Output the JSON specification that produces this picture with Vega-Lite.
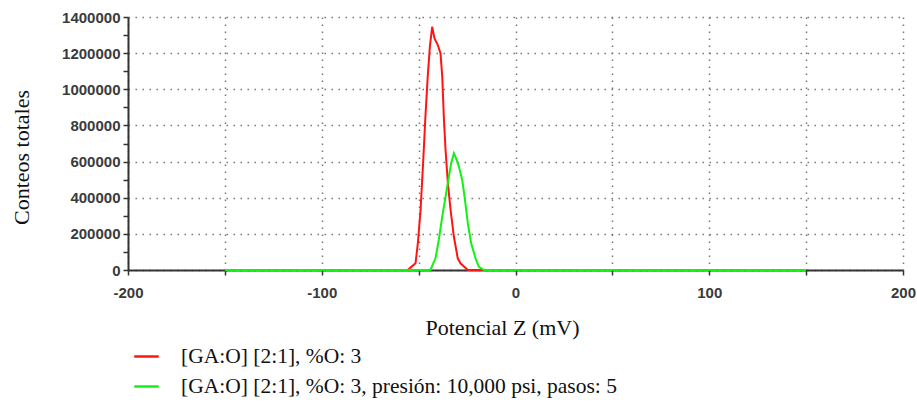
{
  "$schema": "https://vega.github.io/schema/vega-lite/v6.json",
  "width": 775,
  "height": 253,
  "autosize": "none",
  "padding": {"left": 128, "top": 17, "right": 14, "bottom": 138},
  "background": "white",
  "config": {
    "view": {"stroke": null},
    "axis": {
      "labelFont": "Liberation Sans",
      "labelFontSize": 15,
      "labelFontWeight": "bold",
      "labelColor": "#3a3a3a",
      "labelFlush": false,
      "labelOverlap": false,
      "titleFont": "Liberation Serif",
      "titleFontSize": 22,
      "titleFontWeight": "normal",
      "titleColor": "#111111",
      "domainColor": "#333333",
      "domainWidth": 2,
      "tickColor": "#333333",
      "tickWidth": 1.5,
      "tickSize": 5,
      "gridColor": "#777777",
      "gridDash": [1.5, 5.5],
      "gridWidth": 1.5
    }
  },
  "data": {
    "values": [
      {"serie": "A", "x": -55.9, "y": 0},
      {"serie": "A", "x": -55.1, "y": 5000},
      {"serie": "A", "x": -51.6, "y": 37000},
      {"serie": "A", "x": -50.4, "y": 148000},
      {"serie": "A", "x": -49.0, "y": 332000},
      {"serie": "A", "x": -47.6, "y": 609000},
      {"serie": "A", "x": -46.5, "y": 848000},
      {"serie": "A", "x": -45.3, "y": 1070000},
      {"serie": "A", "x": -44.2, "y": 1236000},
      {"serie": "A", "x": -43.0, "y": 1346000},
      {"serie": "A", "x": -41.8, "y": 1282000},
      {"serie": "A", "x": -40.1, "y": 1245000},
      {"serie": "A", "x": -38.7, "y": 1199000},
      {"serie": "A", "x": -37.8, "y": 1070000},
      {"serie": "A", "x": -37.0, "y": 848000},
      {"serie": "A", "x": -36.1, "y": 664000},
      {"serie": "A", "x": -34.9, "y": 480000},
      {"serie": "A", "x": -33.5, "y": 332000},
      {"serie": "A", "x": -31.8, "y": 184000},
      {"serie": "A", "x": -29.8, "y": 64600},
      {"serie": "A", "x": -28.4, "y": 37000},
      {"serie": "A", "x": -24.6, "y": 0},
      {"serie": "A", "x": -17.0, "y": 0},
      {"serie": "B", "x": -150, "y": 0},
      {"serie": "B", "x": -43.9, "y": 0},
      {"serie": "B", "x": -41.3, "y": 64600},
      {"serie": "B", "x": -39.6, "y": 166000},
      {"serie": "B", "x": -37.8, "y": 295000},
      {"serie": "B", "x": -36.1, "y": 406000},
      {"serie": "B", "x": -34.4, "y": 516000},
      {"serie": "B", "x": -33.2, "y": 590000},
      {"serie": "B", "x": -31.8, "y": 646000},
      {"serie": "B", "x": -31.0, "y": 627000},
      {"serie": "B", "x": -29.2, "y": 572000},
      {"serie": "B", "x": -27.5, "y": 498000},
      {"serie": "B", "x": -26.3, "y": 406000},
      {"serie": "B", "x": -24.6, "y": 258000},
      {"serie": "B", "x": -22.9, "y": 148000},
      {"serie": "B", "x": -20.6, "y": 64600},
      {"serie": "B", "x": -18.9, "y": 18000},
      {"serie": "B", "x": -16.3, "y": 0},
      {"serie": "B", "x": 150, "y": 0}
    ]
  },
  "mark": {"type": "line", "strokeWidth": 2, "clip": false},
  "encoding": {
    "x": {
      "field": "x",
      "type": "quantitative",
      "scale": {"domain": [-200, 200], "nice": false, "zero": false},
      "axis": {
        "title": "Potencial Z (mV)",
        "values": [-200, -150, -100, -50, 0, 50, 100, 150, 200],
        "labelExpr": "datum.value % 100 === 0 ? '' + datum.value : ''",
        "labelPadding": 10,
        "grid": true,
        "titleX": 374,
        "titleY": 57,
        "titleBaseline": "middle",
        "titleAnchor": "middle",
        "titleAlign": "center"
      }
    },
    "y": {
      "field": "y",
      "type": "quantitative",
      "scale": {"domain": [0, 1400000], "nice": false},
      "axis": {
        "title": "Conteos totales",
        "format": "d",
        "values": [0, 100000, 200000, 300000, 400000, 500000, 600000, 700000, 800000, 900000, 1000000, 1100000, 1200000, 1300000, 1400000],
        "labelExpr": "datum.value % 200000 === 0 ? datum.label : ''",
        "labelPadding": 3,
        "grid": true,
        "gridOpacity": {"condition": {"test": "datum.value % 200000 === 0", "value": 1}, "value": 0},
        "titleX": -107,
        "titleY": 140,
        "titleAngle": -90,
        "titleBaseline": "middle",
        "titleAlign": "center"
      }
    },
    "color": {
      "field": "serie",
      "type": "nominal",
      "scale": {"domain": ["A", "B"], "range": ["#ff1414", "#14f014"]},
      "legend": {
        "title": null,
        "orient": "none",
        "legendX": 5,
        "legendY": 326,
        "direction": "vertical",
        "symbolType": "stroke",
        "symbolSize": 600,
        "symbolStrokeWidth": 2.5,
        "labelFont": "Liberation Serif",
        "labelFontSize": 21.5,
        "labelColor": "#111111",
        "labelOffset": 21,
        "rowPadding": 6,
        "labelLimit": 800,
        "labelExpr": "datum.value === 'A' ? '[GA:O] [2:1], %O: 3' : '[GA:O] [2:1], %O: 3, presión: 10,000 psi, pasos: 5'"
      }
    }
  }
}
